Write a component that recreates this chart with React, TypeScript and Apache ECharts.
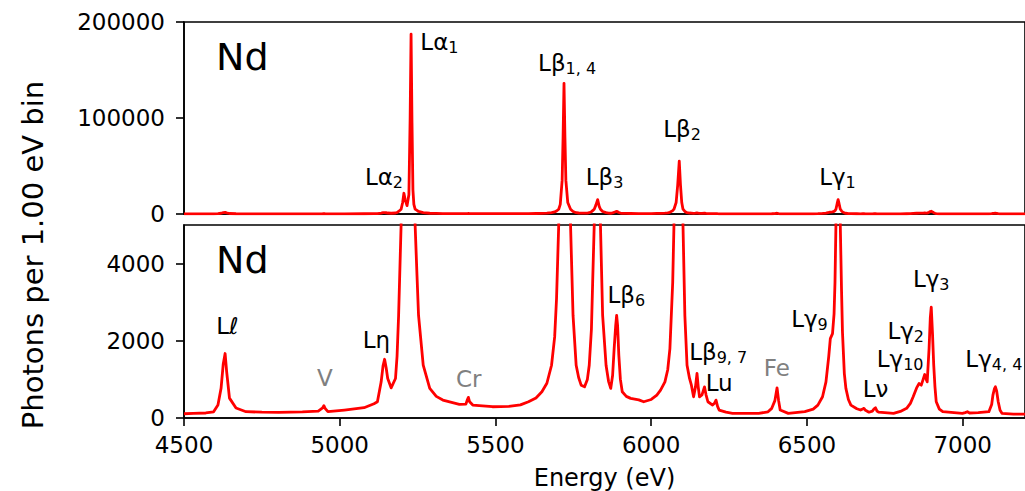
import React, { useEffect, useRef } from "react";
import * as echarts from "echarts";

// Spectrum: energy (eV) and photons per 1.00 eV bin
const energies = [
  4500, 4530, 4570, 4595, 4609, 4619, 4626, 4632, 4637, 4646, 4667, 4699, 4750, 4804, 4880, 4931, 4945, 4949, 4953, 4962,
  5015, 5078, 5110, 5121, 5133, 5139, 5144, 5149, 5154, 5165, 5179, 5184, 5189, 5197, 5202, 5206, 5210, 5216, 5222, 5226,
  5229, 5232, 5235, 5238, 5242, 5248, 5253, 5268, 5289, 5310, 5331, 5384, 5405, 5410, 5413, 5417, 5427, 5490, 5543, 5580,
  5606, 5630, 5649, 5665, 5680, 5690, 5696, 5703, 5708, 5714, 5717, 5720, 5723, 5726, 5732, 5741, 5749, 5759, 5767, 5775,
  5786, 5795, 5801, 5808, 5812, 5817, 5822, 5828, 5833, 5837, 5844, 5855, 5863, 5870, 5876, 5881, 5886, 5889, 5892, 5896,
  5901, 5907, 5920, 5934, 5960, 5976, 6000, 6018, 6030, 6044, 6053, 6060, 6069, 6073, 6080, 6085, 6090, 6094, 6098, 6102,
  6108, 6115, 6123, 6129, 6136, 6142, 6147, 6151, 6155, 6163, 6171, 6176, 6182, 6197, 6203, 6208, 6213, 6218, 6240, 6261,
  6300, 6345, 6375, 6387, 6397, 6404, 6409, 6414, 6440, 6493, 6520, 6535, 6550, 6561, 6570, 6575, 6582, 6587, 6590, 6593,
  6597, 6600, 6603, 6607, 6611, 6614, 6620, 6625, 6633, 6641, 6660, 6672, 6679, 6683, 6688, 6699, 6710, 6716, 6720, 6725,
  6730, 6778, 6800, 6820, 6832, 6841, 6852, 6860, 6867, 6873, 6878, 6883, 6886, 6892, 6896, 6899, 6903, 6907, 6911, 6915,
  6925, 6936, 6999, 7008, 7015, 7022, 7050, 7084, 7093, 7097, 7102, 7105, 7109, 7114, 7120, 7126, 7163, 7200,
];
const counts = [
  110, 120, 130, 160, 335, 770, 1400, 1670, 1195, 515, 258, 163, 150, 147, 160, 180, 260, 320, 250, 165,
  206, 266, 370, 421, 937, 1350, 1522, 1300, 1024, 782, 1024, 1600, 2657, 5000, 12000, 21600, 15000, 8700, 20000, 100000,
  187400, 95000, 25000, 10000, 5000, 3700, 2657, 1367, 766, 560, 464, 353, 360, 480, 534, 420, 335, 292, 300, 340,
  421, 520, 679, 900, 1367, 2100, 3088, 5000, 10000, 35000, 80000, 136100, 80000, 35000, 12000, 5000, 2657, 1367, 1050, 851,
  808, 1000, 1367, 2300, 3517, 5000, 9000, 15000, 8000, 5000, 2657, 1367, 950, 766, 1100, 1798, 2400, 2657, 2400, 1625,
  1000, 679, 560, 508, 470, 421, 480, 593, 720, 937, 1250, 1798, 3517, 5000, 12000, 30000, 55100, 30000, 12000, 5000,
  2657, 1367, 1024, 851, 550, 800, 1153, 800, 550, 600, 808, 600, 421, 335, 380, 464, 300, 206, 150, 121,
  118, 121, 160, 250, 450, 782, 450, 206, 121, 163, 230, 335, 550, 937, 1600, 2055, 2185, 2700, 3517, 5000,
  11000, 15000, 11000, 5000, 3300, 2226, 1150, 766, 480, 335, 240, 206, 235, 250, 200, 150, 180, 240, 266, 180,
  150, 121, 170, 250, 380, 550, 780, 894, 851, 1000, 1127, 1000, 937, 1798, 2600, 2872, 2200, 1367, 800, 421,
  230, 163, 121, 140, 163, 130, 140, 163, 350, 593, 760, 808, 700, 421, 200, 121, 100, 100,
];

const xMin = 4500;
const xMax = 7200;
const xStep = 500;
const topYMax = 200000;
const topYStep = 100000;
const bottomYMax = 5000;
const bottomYTicks = [0, 2000, 4000];

type PeakLabel = { main: string; sub?: string; e: number; c: number; muted?: boolean };

const topLabels: PeakLabel[] = [
  { main: "Lα", sub: "2", e: 5142, c: 38800 },
  { main: "Lα", sub: "1", e: 5320, c: 179300 },
  { main: "Lβ", sub: "1, 4", e: 5730, c: 157400 },
  { main: "Lβ", sub: "3", e: 5850, c: 38700 },
  { main: "Lβ", sub: "2", e: 6099, c: 88300 },
  { main: "Lγ", sub: "1", e: 6598, c: 39000 },
];

const bottomLabels: PeakLabel[] = [
  { main: "Lℓ", e: 4639, c: 2381 },
  { main: "V", e: 4952, c: 1024, muted: true },
  { main: "Lη", e: 5118, c: 2012 },
  { main: "Cr", e: 5414, c: 1014, muted: true },
  { main: "Lβ", sub: "6", e: 5920, c: 3191 },
  { main: "Lβ", sub: "9, 7", e: 6215, c: 1711 },
  { main: "Lu", e: 6218, c: 903 },
  { main: "Fe", e: 6403, c: 1298, muted: true },
  { main: "Lγ", sub: "9", e: 6508, c: 2562 },
  { main: "Lν", e: 6720, c: 740 },
  { main: "Lγ", sub: "2", e: 6817, c: 2253 },
  { main: "Lγ", sub: "10", e: 6799, c: 1530 },
  { main: "Lγ", sub: "3", e: 6899, c: 3604 },
  { main: "Lγ", sub: "4, 4", e: 7100, c: 1540 },
];

const FONT = "DejaVu Sans";

export default function App() {
  const ref = useRef<HTMLDivElement>(null);

  useEffect(() => {
    if (!ref.current) return;
    const chart = echarts.init(ref.current, null, { renderer: "svg" });
    const data = energies.map((e, i) => [e, counts[i]]);

    const rich: any = {
      m: { fontSize: 23, lineHeight: 23, verticalAlign: "top", fontFamily: FONT, color: "#000" },
      s: { fontSize: 16, lineHeight: 23, verticalAlign: "top", padding: [9, 0, 0, 0], fontFamily: FONT, color: "#000" },
      g: { fontSize: 23, lineHeight: 23, fontFamily: FONT, color: "#808080" },
    };

    const mk = (labels: PeakLabel[]) =>
      labels.map((l) => ({
        coord: [l.e, l.c],
        label: {
          formatter: l.muted ? `{g|${l.main}}` : l.sub ? `{m|${l.main}}{s|${l.sub}}` : `{m|${l.main}}`,
        },
      }));

    const axisLine = { show: true, lineStyle: { color: "#000", width: 1.6 } };
    const tick = { show: true, inside: false, length: 8, lineStyle: { color: "#000", width: 1.6 } };
    const tickLabel = { color: "#000", fontSize: 23, fontFamily: FONT, formatter: (v: number) => String(v) };

    const lineSeries = (idx: number, labels: PeakLabel[]) => ({
      type: "line",
      xAxisIndex: idx,
      yAxisIndex: idx,
      data,
      symbol: "none",
      showSymbol: false,
      clip: true,
      z: 5,
      lineStyle: { color: "#ff0000", width: 2.8, join: "round" },
      itemStyle: { color: "#ff0000" },
      markPoint: {
        symbol: "circle",
        symbolSize: 0,
        silent: true,
        itemStyle: { color: "rgba(0,0,0,0)" },
        label: { show: true, position: "inside", rich },
        data: mk(labels),
      },
    });

    chart.setOption({
      animation: false,
      backgroundColor: "#fff",
      grid: [
        { left: 184, top: 22, height: 192, right: -12, show: true, borderColor: "#000", borderWidth: 1.6, backgroundColor: "transparent" },
        { left: 184, top: 225, height: 193, right: -12, show: true, borderColor: "#000", borderWidth: 1.6, backgroundColor: "transparent" },
      ],
      xAxis: [
        {
          type: "value", gridIndex: 0, min: xMin, max: xMax, interval: xStep,
          axisLine, axisTick: { show: false }, axisLabel: { show: false }, splitLine: { show: false },
        },
        {
          type: "value", gridIndex: 1, min: xMin, max: xMax, interval: xStep,
          axisLine, axisTick: tick,
          axisLabel: { ...tickLabel, margin: 15, showMaxLabel: false },
          splitLine: { show: false },
          name: "Energy (eV)", nameLocation: "middle", nameGap: 48,
          nameTextStyle: { color: "#000", fontSize: 24, fontFamily: FONT },
        },
      ],
      yAxis: [
        {
          type: "value", gridIndex: 0, min: 0, max: topYMax, interval: topYStep,
          axisLine, axisTick: tick, axisLabel: { ...tickLabel, margin: 19 }, splitLine: { show: false },
        },
        {
          type: "value", gridIndex: 1, min: 0, max: bottomYMax, interval: 2000,
          axisLine,
          axisTick: { ...tick, customValues: bottomYTicks },
          axisLabel: { ...tickLabel, margin: 19, customValues: bottomYTicks },
          splitLine: { show: false },
        },
      ],
      graphic: [
        {
          type: "text", x: 216, y: 57,
          style: { text: "Nd", fontSize: 38, fontFamily: FONT, fill: "#000", align: "left", verticalAlign: "middle" },
        },
        {
          type: "text", x: 216, y: 260,
          style: { text: "Nd", fontSize: 38, fontFamily: FONT, fill: "#000", align: "left", verticalAlign: "middle" },
        },
        {
          type: "text", x: 33, y: 255, rotation: Math.PI / 2,
          style: { text: "Photons per 1.00 eV bin", fontSize: 29, fontFamily: FONT, fill: "#000", align: "center", verticalAlign: "middle" },
        },
      ],
      series: [lineSeries(0, topLabels), lineSeries(1, bottomLabels)],
    } as any);

    return () => chart.dispose();
  }, []);

  return (
    <div
      ref={ref}
      style={{ position: "fixed", left: 0, top: 0, width: 1025, height: 491, overflow: "hidden" }}
    />
  );
}
